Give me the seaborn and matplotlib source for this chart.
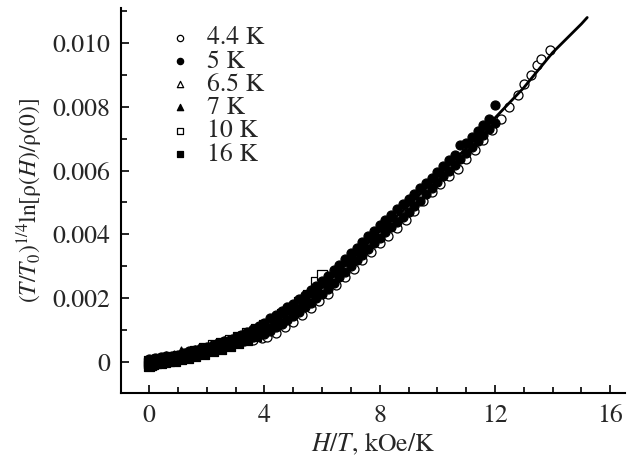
import matplotlib
matplotlib.use("Agg")
import matplotlib.pyplot as plt
from matplotlib.ticker import MultipleLocator, FuncFormatter
import seaborn as sns
import pandas as pd

# ---- measured data: (T/T0)^(1/4) ln[rho(H)/rho(0)] versus H/T ----
# 4.4 K, open circles
x_44 = [0.05, 0.3, 0.6, 0.9, 1.2, 1.5, 1.8, 2.1, 2.4, 2.7, 3.0, 3.3, 3.6, 3.9, 4.1,
        4.4, 4.7, 5.0, 5.3, 5.6, 5.9, 6.2, 6.5, 6.8, 7.1, 7.4, 7.7, 8.0, 8.3, 8.6,
        8.9, 9.2, 9.5, 9.8, 10.1, 10.4, 10.7, 11.0, 11.3, 11.6, 11.9, 12.2, 12.5,
        12.8, 13.0, 13.25, 13.45, 13.6, 13.9]
y_44 = [0.0, 0.00004, 0.00008, 0.00012, 0.00017, 0.00024, 0.0003, 0.00038, 0.00045,
        0.00052, 0.00058, 0.00064, 0.0007, 0.00074, 0.00078, 0.00092, 0.0011, 0.00126,
        0.00148, 0.00168, 0.0019, 0.00214, 0.0024, 0.00266, 0.00292, 0.0032, 0.00346,
        0.00372, 0.00396, 0.0042, 0.00446, 0.00474, 0.00505, 0.00534, 0.00558,
        0.00584, 0.00606, 0.00636, 0.00666, 0.00696, 0.00728, 0.00762, 0.00798,
        0.00836, 0.0087, 0.0090, 0.0093, 0.0095, 0.00978]

# 5 K, filled circles (field swept up and down)
x_5 = [0.0, 0.2, 0.4, 0.6, 0.8, 1.0, 1.2, 1.4, 1.6, 1.8, 2.0, 2.2, 2.4, 2.6, 2.8,
       3.0, 3.2, 3.4, 3.6, 3.8, 4.0, 4.2, 4.4, 4.6, 4.8, 5.0, 5.2, 5.4, 5.6, 5.8,
       6.0, 6.2, 6.4, 6.6, 6.8, 7.0, 7.2, 7.4, 7.6, 7.8, 8.0, 8.2, 8.4, 8.6, 8.8,
       9.0, 9.2, 9.4, 9.6, 9.8, 10.0, 10.2, 10.4, 10.6, 10.8, 11.0, 11.2, 11.4,
       11.6, 11.8, 12.0]
y_5_up = [0.00008, 0.00011, 0.00014, 0.00017, 0.0002, 0.00023, 0.00028, 0.00033,
          0.00038, 0.00043, 0.00048, 0.00054, 0.00059, 0.00065, 0.0007, 0.00078,
          0.00085, 0.00093, 0.00102, 0.00112, 0.00122, 0.00137, 0.00148, 0.0016,
          0.00171, 0.00183, 0.00197, 0.00211, 0.00225, 0.00239, 0.00253, 0.0027,
          0.00288, 0.00305, 0.00323, 0.0034, 0.00358, 0.00376, 0.00394, 0.00412,
          0.0043, 0.00446, 0.00462, 0.00478, 0.00494, 0.0051, 0.00528, 0.00546,
          0.0056, 0.00578, 0.00596, 0.00614, 0.00632, 0.0065, 0.0068, 0.00686,
          0.00705, 0.00724, 0.00743, 0.00762, 0.00805]
y_5_down = [-0.00008, -0.00005, -0.00002, 0.00001, 0.00004, 0.00007, 0.00012, 0.00017,
            0.00022, 0.00027, 0.00032, 0.00038, 0.00043, 0.00049, 0.00054, 0.00058,
            0.00065, 0.00073, 0.00078, 0.00084, 0.00088, 0.00097, 0.00108, 0.0012,
            0.00131, 0.00143, 0.00157, 0.00171, 0.00185, 0.00199, 0.00213, 0.0023,
            0.00248, 0.00265, 0.00283, 0.003, 0.00318, 0.00336, 0.00354, 0.00372,
            0.0039, 0.00406, 0.00422, 0.00438, 0.00454, 0.0047, 0.00488, 0.00506,
            0.00528, 0.00546, 0.00564, 0.00582, 0.006, 0.00618, 0.00636, 0.00654,
            0.00673, 0.00692, 0.00711, 0.0073, 0.00749]

# 6.5 K, open triangles
x_65 = [0.1, 0.35, 0.6, 0.85, 1.1, 1.35, 1.6, 1.85, 2.1, 2.35, 2.6, 2.85, 3.1, 3.35,
        3.6, 3.85, 4.1, 4.35, 4.6, 4.85, 5.1, 5.35, 5.6, 5.85, 6.1, 6.35, 6.6, 6.85,
        7.1, 7.35, 7.6, 7.85, 8.1, 8.35, 8.6, 8.85, 9.1]
y_65 = [0.00009, 0.00013, 0.00017, 0.00021, 0.00026, 0.00032, 0.00038, 0.00045,
        0.00052, 0.00059, 0.00066, 0.00073, 0.00081, 0.0009, 0.00099, 0.00109, 0.0012,
        0.00134, 0.00149, 0.00163, 0.00179, 0.00197, 0.00214, 0.00232, 0.00251,
        0.00272, 0.00294, 0.00316, 0.00338, 0.00361, 0.00383, 0.00406, 0.00427,
        0.00447, 0.00467, 0.00487, 0.00508]

# 7 K, filled triangles
x_7 = [0.1, 0.3, 0.5, 0.7, 0.9, 1.1, 1.3, 1.5, 1.7, 1.9, 2.1, 2.3, 2.5, 2.7, 2.9,
       3.1, 3.3, 3.5, 3.7, 3.9, 4.1, 4.3, 4.5, 4.7, 4.9, 5.1, 5.3, 5.5, 5.7, 5.9,
       6.1, 6.3, 6.5, 6.7, 6.9, 7.1, 7.3, 7.5, 7.7, 7.9, 8.1, 8.3, 8.5]
y_7 = [0.00007, 0.0, 0.00013, 0.00006, 0.00019, 0.00033, 0.00028, 0.00023, 0.00038,
       0.00033, 0.00048, 0.00044, 0.00059, 0.00055, 0.0007, 0.00067, 0.00084, 0.00082,
       0.00099, 0.00097, 0.00116, 0.00118, 0.00139, 0.00141, 0.00162, 0.00165,
       0.00189, 0.00193, 0.00217, 0.00221, 0.00247, 0.00254, 0.00282, 0.00289,
       0.00317, 0.00324, 0.00352, 0.0036, 0.00388, 0.00396, 0.00423, 0.00429, 0.00455]

# 10 K, open squares
x_10 = [0.0, 0.1, 0.25, 0.4, 0.6, 0.8, 1.0, 1.3, 1.6, 1.9, 2.2, 2.5, 2.8, 3.1, 3.4,
        3.7, 4.0, 4.3, 4.6, 4.9, 5.2, 5.5, 5.8, 6.0]
y_10 = [-0.00005, 0.00002, 0.00005, 0.00008, 0.00011, 0.00015, 0.00019, 0.00026,
        0.00035, 0.00043, 0.00052, 0.0006, 0.00069, 0.00079, 0.0009, 0.00103, 0.00115,
        0.00131, 0.00149, 0.00168, 0.00189, 0.0021, 0.0025, 0.00272]

# 16 K, filled squares
x_16 = [0.0, 0.0, 0.0, 0.05, 0.1, 0.15, 0.25, 0.4, 0.55, 0.7, 0.9, 1.1, 1.35, 1.6,
        1.9, 2.2, 2.5, 2.8, 3.1, 3.4, 3.7]
y_16 = [-0.00013, -0.00005, 0.00003, -0.0001, -0.00008, -0.00006, -0.00005, -0.00003,
        -0.00001, 0.00002, 0.00004, 0.00008, 0.00013, 0.00019, 0.00026, 0.00034,
        0.00042, 0.0005, 0.0006, 0.0007, 0.00082]

# common curve through all temperatures
fit_x = [0, 1, 2, 3, 4, 5, 6, 7, 8, 9, 10, 11, 12, 13, 14, 15, 15.2]
fit_y = [0.0, 0.00015, 0.0004, 0.00068, 0.00105, 0.00163, 0.00233, 0.0032, 0.0041,
         0.0049, 0.0058, 0.0067, 0.00765, 0.0086, 0.0097, 0.0106, 0.0108]

legend_order = ["4.4 K", "5 K", "6.5 K", "7 K", "10 K", "16 K"]

# drawing order: open symbols underneath, filled symbols on top
layers = [
    ("4.4 K", x_44, y_44, "o", "white"),
    ("6.5 K", x_65, y_65, "^", "white"),
    ("10 K", x_10, y_10, "s", "white"),
    ("5 K", x_5, y_5_up, "o", "black"),
    (None, x_5, y_5_down, "o", "black"),
    ("7 K", x_7, y_7, "^", "black"),
    ("16 K", x_16, y_16, "s", "black"),
]

sns.set_theme(style="ticks")
plt.rcParams["font.family"] = ["STIXGeneral", "DejaVu Serif"]
plt.rcParams["mathtext.fontset"] = "stix"

fig = plt.figure(figsize=(6.31, 4.66), dpi=100)
ax = fig.add_axes([0.192, 0.157, 0.798, 0.826])

for lab, xs, ys, mk, fc in layers:
    df = pd.DataFrame({"x": xs, "y": ys})
    sns.scatterplot(data=df, x="x", y="y", marker=mk, s=42, color="black",
                    facecolor=fc, edgecolor="black", linewidth=0.9,
                    label=lab, ax=ax, zorder=3, legend=lab is not None)

fit_df = pd.DataFrame({"x": fit_x, "y": fit_y})
sns.lineplot(data=fit_df, x="x", y="y", color="black", lw=2.0, ax=ax,
             zorder=4, legend=False)

ax.set_xlim(-0.97, 16.5)
ax.set_ylim(-0.00097, 0.0111)
ax.xaxis.set_major_locator(MultipleLocator(4))
ax.xaxis.set_minor_locator(MultipleLocator(1))
ax.yaxis.set_major_locator(MultipleLocator(0.002))
ax.yaxis.set_minor_locator(MultipleLocator(0.001))
ax.yaxis.set_major_formatter(FuncFormatter(lambda v, p: "0" if abs(v) < 1e-9 else f"{v:.3f}"))
ax.xaxis.set_major_formatter(FuncFormatter(lambda v, p: f"{v:.0f}"))

ax.tick_params(which="both", direction="in", labelsize=18.5, width=1.2, color="black")
ax.tick_params(which="major", length=6, pad=8)
ax.tick_params(which="minor", length=4)
for s in ["top", "right"]:
    ax.spines[s].set_visible(False)
for s in ["left", "bottom"]:
    ax.spines[s].set_linewidth(1.5)
    ax.spines[s].set_color("black")

ax.set_xlabel(r"$H/T$, kOe/K", fontsize=18.5, labelpad=2)
ax.set_ylabel(r"$(T/T_0)^{1/4}\mathrm{ln}[\mathrm{ρ}(H)/\mathrm{ρ}(0)]$",
              fontsize=17, labelpad=5)

handles, labels = ax.get_legend_handles_labels()
lookup = dict(zip(labels, handles))
ax.legend([lookup[k] for k in legend_order], legend_order,
          loc="upper left", bbox_to_anchor=(0.066, 0.992), frameon=False,
          fontsize=18.5, markerscale=0.7, handletextpad=0.65, labelspacing=-0.03,
          handlelength=0.8, borderaxespad=0.2)

fig.savefig("out.png", dpi=100)
